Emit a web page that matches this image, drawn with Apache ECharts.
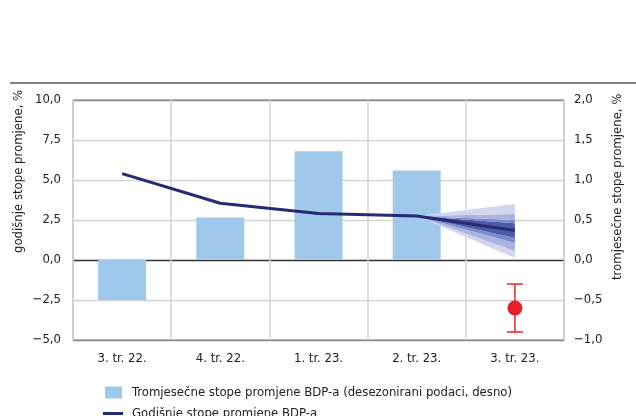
<!DOCTYPE html>
<html>
<head>
<meta charset="utf-8">
<script src="https://cdn.jsdelivr.net/npm/echarts@6/dist/echarts.min.js"></script>
<style>
  html, body { margin: 0; padding: 0; background: #fff; }
  #chart { width: 636px; height: 416px; }
</style>
</head>
<body>
<div id="chart"></div>
<script>
// kategorije i podaci
const categories = ['3. tr. 22.', '4. tr. 22.', '1. tr. 23.', '2. tr. 23.', '3. tr. 23.'];
const quarterly = [-0.5, 0.53, 1.36, 1.12, '-'];          // desna os
const annual = [5.4, 3.55, 2.9, 2.75, 1.85];                // lijeva os
// lepeza projekcije (od vanjskog prema unutarnjem pojasu), 3. tr. 23.
const fanStart = 2.75;
const fanLow = [0.12, 0.56, 1.06, 1.38];
const fanHigh = [3.5, 2.88, 2.5, 2.3];
// procjena (desna os)
const estimate = -0.6;
const estimateLow = -0.9;
const estimateHigh = -0.3;

const leftTicks = { min: -5, max: 10, interval: 2.5 };
const rightTicks = { min: -1, max: 2, interval: 0.5 };

const FONT = "'Liberation Sans Narrow', 'DejaVu Sans Condensed', sans-serif";
const bandColors = ['#d2d7ee', '#a9b3de', '#7b8aca', '#4a5aa9'];
const BAR_NAME = 'Tromjesečne stope promjene BDP-a (desezonirani podaci, desno)';
const LINE_NAME = 'Godišnje stope promjene BDP-a';

const fmt = v => v.toFixed(1).replace('.', ',').replace('-', '\u2212');

// lepeza kao složene površine
const fanSeries = [];
const pad = ['-', '-', '-'];
function fanPiece(name, start, end, color) {
    fanSeries.push({
        name: name,
        type: 'line',
        stack: 'fan',
        symbol: 'none',
        lineStyle: { width: 0 },
        areaStyle: color ? { color: color, opacity: 1 } : undefined,
        data: pad.concat([start, end]),
        z: 2,
        silent: true
    });
}
fanPiece('base', fanStart, fanLow[0], null);
for (let i = 0; i < 3; i++) {
    fanPiece('low' + i, 0, fanLow[i + 1] - fanLow[i], bandColors[i]);
}
fanPiece('mid', 0, fanHigh[3] - fanLow[3], bandColors[3]);
for (let i = 2; i >= 0; i--) {
    fanPiece('high' + i, 0, fanHigh[i] - fanHigh[i + 1], bandColors[i]);
}

const splitColors = ['#8a8a8a', '#d3d3d3', '#333333', '#d3d3d3', '#d3d3d3', '#d3d3d3', '#8a8a8a'];
const legendText = { fontFamily: FONT, fontSize: 13, color: '#222', padding: [0, 0, 0, 5] };

const myChart = echarts.init(document.getElementById('chart'));
const option = {
    animation: false,
    textStyle: { fontFamily: FONT },
    grid: {
        left: 73, right: 72, top: 100, bottom: 76,
        show: true, borderColor: '#8a8a8a', borderWidth: 1
    },
    legend: [{
        left: 105, top: 386, padding: 0,
        itemWidth: 17, itemHeight: 12,
        textStyle: legendText,
        data: [{ name: BAR_NAME, icon: 'rect' }]
    }, {
        left: 103, top: 407, padding: 0,
        itemWidth: 20, itemHeight: 12,
        textStyle: Object.assign({}, legendText, { padding: [0, 0, 0, 4] }),
        data: [{ name: LINE_NAME, icon: 'path://M0,0 L20,0 L20,3 L0,3 Z', itemStyle: { color: '#252a72' } }]
    }],
    xAxis: {
        type: 'category',
        data: categories,
        axisLine: { show: false },
        axisTick: { show: false },
        axisLabel: { color: '#222', fontSize: 13, fontFamily: FONT, margin: 12 },
        splitLine: { show: true, lineStyle: { color: '#d3d3d3', width: 1.5 } }
    },
    yAxis: [{
        type: 'value',
        min: leftTicks.min, max: leftTicks.max, interval: leftTicks.interval,
        axisLine: { show: false },
        axisTick: { show: false },
        axisLabel: { color: '#222', fontSize: 13, fontFamily: FONT, margin: 12, formatter: fmt },
        splitLine: { show: true, lineStyle: { color: splitColors, width: 1.3 } }
    }, {
        type: 'value',
        min: rightTicks.min, max: rightTicks.max, interval: rightTicks.interval,
        axisLine: { show: false },
        axisTick: { show: false },
        axisLabel: { color: '#222', fontSize: 13, fontFamily: FONT, margin: 10, formatter: fmt },
        splitLine: { show: false }
    }],
    graphic: [
        { type: 'line', shape: { x1: 10, y1: 83, x2: 636, y2: 83 }, style: { stroke: '#555', lineWidth: 1.5 } },
        {
            type: 'text', x: 19, y: 253, rotation: Math.PI / 2,
            style: { text: 'godišnje stope promjene, %', font: '13px ' + FONT, fill: '#222', textAlign: 'left', textVerticalAlign: 'middle' }
        },
        {
            type: 'text', x: 618, y: 280, rotation: Math.PI / 2,
            style: { text: 'tromjesečne stope promjene, %', font: '13px ' + FONT, fill: '#222', textAlign: 'left', textVerticalAlign: 'middle' }
        }
    ],
    series: [
        {
            name: BAR_NAME,
            type: 'bar',
            yAxisIndex: 1,
            barWidth: 48,
            itemStyle: { color: '#9fc8ea' },
            data: quarterly,
            z: 1
        }
    ].concat(fanSeries, [
        {
            name: LINE_NAME,
            type: 'line',
            symbol: 'none',
            lineStyle: { color: '#252a72', width: 3 },
            itemStyle: { color: '#252a72' },
            data: annual,
            z: 5
        },
        {
            name: 'procjena-raspon',
            type: 'custom',
            yAxisIndex: 1,
            encode: { x: 0, y: [1, 2] },
            data: [[4, estimateLow, estimateHigh]],
            renderItem: function (params, api) {
                const lo = api.coord([api.value(0), api.value(1)]);
                const hi = api.coord([api.value(0), api.value(2)]);
                const w = 8;
                const st = { stroke: '#e8202a', lineWidth: 1.5 };
                return {
                    type: 'group',
                    children: [
                        { type: 'line', shape: { x1: lo[0], y1: lo[1], x2: hi[0], y2: hi[1] }, style: st },
                        { type: 'line', shape: { x1: lo[0] - w, y1: lo[1], x2: lo[0] + w, y2: lo[1] }, style: st },
                        { type: 'line', shape: { x1: hi[0] - w, y1: hi[1], x2: hi[0] + w, y2: hi[1] }, style: st }
                    ]
                };
            },
            z: 6
        },
        {
            name: 'procjena',
            type: 'scatter',
            yAxisIndex: 1,
            symbolSize: 15,
            itemStyle: { color: '#e8202a', opacity: 1 },
            data: ['-', '-', '-', '-', estimate],
            z: 7
        }
    ])
};
myChart.setOption(option);
</script>
</body>
</html>
